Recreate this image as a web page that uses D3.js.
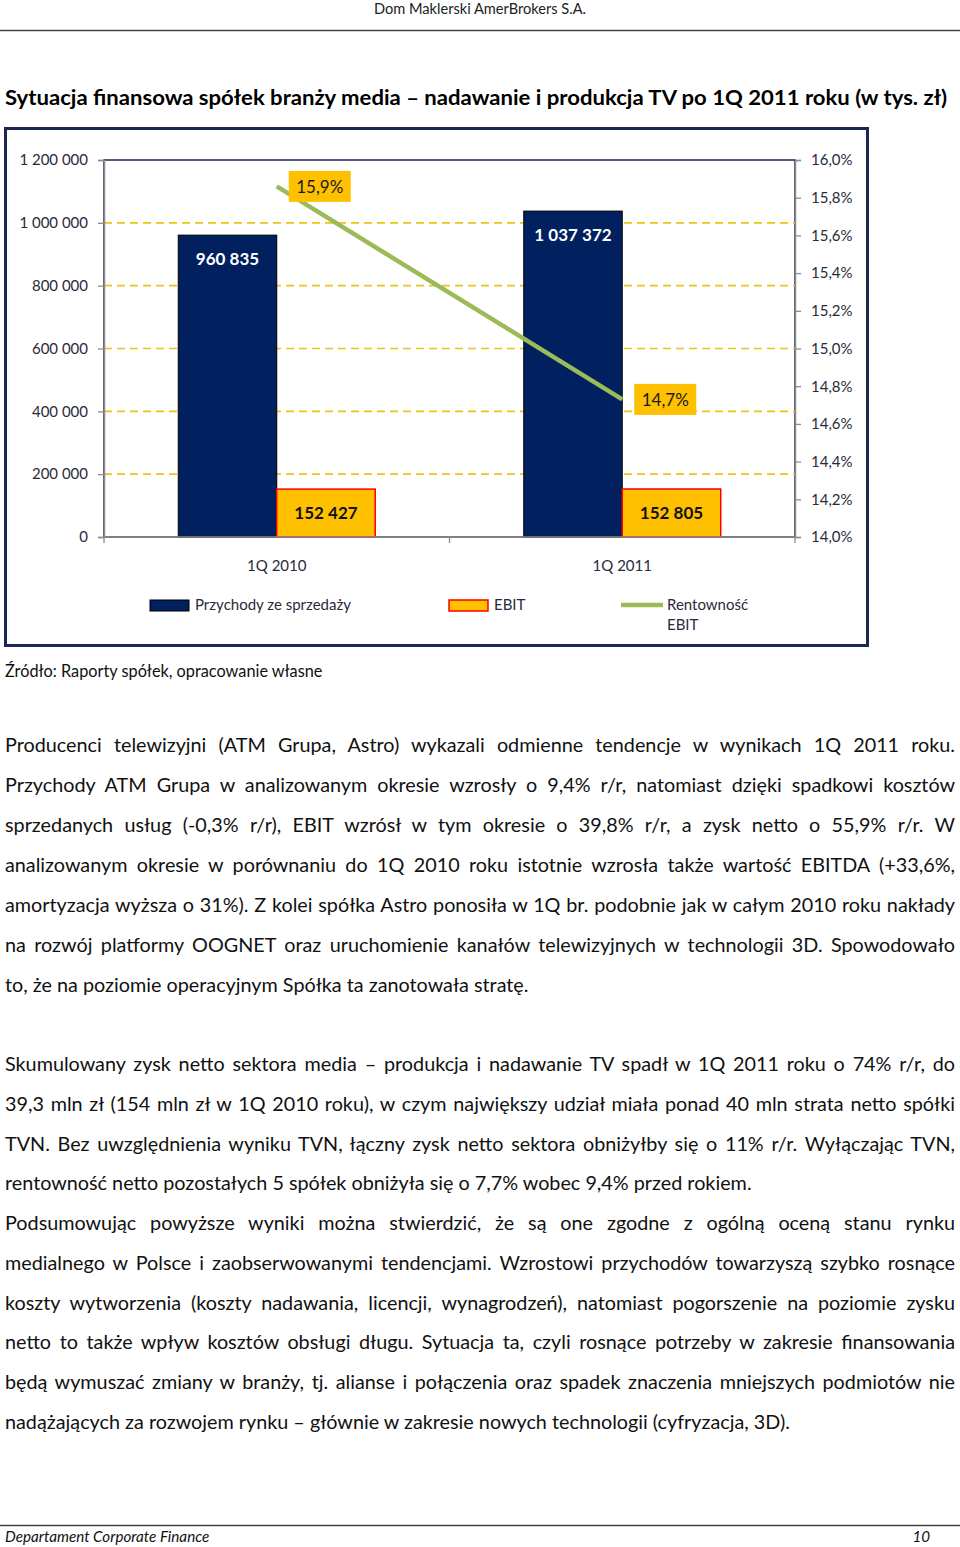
<!DOCTYPE html>
<html><head><meta charset="utf-8">
<script src="https://cdn.jsdelivr.net/npm/d3@7"></script>
<style>
body{margin:0;background:#fff}
svg{display:block}
text{font-family:Lato,'Open Sans',sans-serif}
</style>
</head><body>
<svg id="page" width="960" height="1547"></svg>
<script>
// ---------- data ----------
const categories = ["1Q 2010", "1Q 2011"];
const seriesNames = ["Przychody ze sprzedaży", "EBIT", "Rentowność EBIT"];
const revenue = [960835, 1037372];
const ebit = [152427, 152805];
const ebitMargin = [15.86, 14.73];
const leftTicks = [0, 200000, 400000, 600000, 800000, 1000000, 1200000];
const rightTicks = [14.0, 14.2, 14.4, 14.6, 14.8, 15.0, 15.2, 15.4, 15.6, 15.8, 16.0];

const headerText = "Dom Maklerski AmerBrokers S.A.";
const titleText = "Sytuacja finansowa spółek branży media – nadawanie i produkcja TV po 1Q 2011 roku (w tys. zł)";
const sourceText = "Źródło: Raporty spółek, opracowanie własne";
const para1 = [
  "Producenci telewizyjni (ATM Grupa, Astro) wykazali odmienne tendencje w wynikach 1Q 2011 roku.",
  "Przychody ATM Grupa w analizowanym okresie wzrosły o 9,4% r/r, natomiast dzięki spadkowi kosztów",
  "sprzedanych usług (-0,3% r/r), EBIT wzrósł w tym okresie o 39,8% r/r, a zysk netto o 55,9% r/r. W",
  "analizowanym okresie w porównaniu do 1Q 2010 roku istotnie wzrosła także wartość EBITDA (+33,6%,",
  "amortyzacja wyższa o 31%). Z kolei spółka Astro ponosiła w 1Q br. podobnie jak w całym 2010 roku nakłady",
  "na rozwój platformy OOGNET oraz uruchomienie kanałów telewizyjnych w technologii 3D. Spowodowało",
  "to, że na poziomie operacyjnym Spółka ta zanotowała stratę."
];
const para2 = [
  "Skumulowany zysk netto sektora media – produkcja i nadawanie TV spadł w 1Q 2011 roku o 74% r/r, do",
  "39,3 mln zł (154 mln zł w 1Q 2010 roku), w czym największy udział miała ponad 40 mln strata netto spółki",
  "TVN. Bez uwzględnienia wyniku TVN, łączny zysk netto sektora obniżyłby się o 11% r/r. Wyłączając TVN,",
  "rentowność netto pozostałych 5 spółek obniżyła się o 7,7% wobec 9,4% przed rokiem."
];
const para3 = [
  "Podsumowując powyższe wyniki można stwierdzić, że są one zgodne z ogólną oceną stanu rynku",
  "medialnego w Polsce i zaobserwowanymi tendencjami. Wzrostowi przychodów towarzyszą szybko rosnące",
  "koszty wytworzenia (koszty nadawania, licencji, wynagrodzeń), natomiast pogorszenie na poziomie zysku",
  "netto to także wpływ kosztów obsługi długu. Sytuacja ta, czyli rosnące potrzeby w zakresie finansowania",
  "będą wymuszać zmiany w branży, tj. alianse i połączenia oraz spadek znaczenia mniejszych podmiotów nie",
  "nadążających za rozwojem rynku – głównie w zakresie nowych technologii (cyfryzacja, 3D)."
];
const footerLeft = "Departament Corporate Finance";
const footerRight = "10";

// ---------- helpers ----------
const svg = d3.select("#page");
svg.append("rect").attr("width", 960).attr("height", 1547).attr("fill", "#fff");

function fit(sel, maxW) {
  const w = sel.node().getComputedTextLength();
  if (w > maxW) sel.attr("textLength", maxW).attr("lengthAdjust", "spacingAndGlyphs");
}
function justify(sel, W) {
  const txt = sel.text();
  const n = (txt.match(/ /g) || []).length;
  const w = sel.node().getComputedTextLength();
  if (!n) return;
  const ws = (W - w) / n;
  if (ws < -1.5) sel.attr("textLength", W).attr("lengthAdjust", "spacingAndGlyphs");
  else sel.style("word-spacing", ws + "px");
}
const fmtInt = d => d3.format(",")(d).replace(/,/g, " ");
const fmtPct = d => d.toFixed(1).replace(".", ",") + "%";

// ---------- header / title ----------
const header = svg.append("text").attr("x", 480).attr("y", 14).attr("text-anchor", "middle")
  .style("font-size", "14.5px").attr("fill", "#222").text(headerText);
header.attr("textLength", 212).attr("lengthAdjust", "spacingAndGlyphs");
svg.append("line").attr("x1", 0).attr("x2", 960).attr("y1", 30.5).attr("y2", 30.5)
  .attr("stroke", "#444").attr("stroke-width", 1.3);
const title = svg.append("text").attr("x", 5).attr("y", 105)
  .style("font-size", "21.5px").style("font-weight", "bold").attr("fill", "#000").text(titleText);
title.attr("textLength", 942).attr("lengthAdjust", "spacingAndGlyphs");

// ---------- chart ----------
svg.append("rect").attr("x", 5.5).attr("y", 128.5).attr("width", 862).attr("height", 517)
  .attr("fill", "#fff").attr("stroke", "#1a2654").attr("stroke-width", 3);

const L = 104, R = 795, T = 160, B = 537;
const x0 = d3.scaleBand().domain(categories).range([L, R]).paddingInner(0).paddingOuter(0);
const x1 = d3.scaleBand().domain(seriesNames.slice(0, 2)).range([0, x0.bandwidth()]).paddingInner(0).paddingOuter(0.754);
const y = d3.scaleLinear().domain([0, 1200000]).range([B, T]);
const y2 = d3.scaleLinear().domain([14, 16]).range([B, T]);

const chart = svg.append("g");

chart.append("rect").attr("x", L).attr("y", T).attr("width", R - L).attr("height", B - T)
  .attr("fill", "none").attr("stroke", "#1a2654").attr("stroke-width", 1.5);

chart.selectAll(".grid").data(leftTicks.filter(d => d > 0 && d < 1200000)).join("line")
  .attr("x1", L).attr("x2", R).attr("y1", d => y(d)).attr("y2", d => y(d))
  .attr("stroke", "#ecc41a").attr("stroke-width", 1.6).attr("stroke-dasharray", "8,5");

const rows = categories.map((c, i) => ({c, vals: [revenue[i], ebit[i]]}));
const groups = chart.selectAll(".grp").data(rows).join("g").attr("transform", d => `translate(${x0(d.c)},0)`);
const barFill = ["#002060", "#ffc000"], barStroke = ["#000", "#ff0000"], labFill = ["#fff", "#111"];
groups.selectAll("rect").data(d => d.vals.map((v, j) => ({v, j, k: seriesNames[j]}))).join("rect")
  .attr("x", d => x1(d.k)).attr("width", x1.bandwidth())
  .attr("y", d => y(d.v)).attr("height", d => B - y(d.v))
  .attr("fill", d => barFill[d.j]).attr("stroke", d => barStroke[d.j]).attr("stroke-width", d => d.j ? 1.5 : 1);
groups.selectAll(".blab").data(d => d.vals.map((v, j) => ({v, j, k: seriesNames[j]}))).join("text")
  .attr("class", "blab")
  .attr("x", d => x1(d.k) + x1.bandwidth() / 2).attr("y", d => y(d.v) + 30)
  .attr("text-anchor", "middle").style("font-size", "17px").style("font-weight", "bold")
  .attr("fill", d => labFill[d.j]).text(d => fmtInt(d.v));

const axL = chart.append("g").attr("transform", `translate(${L},0)`)
  .call(d3.axisLeft(y).tickValues(leftTicks).tickSize(6).tickPadding(10).tickFormat(fmtInt));
const axR = chart.append("g").attr("transform", `translate(${R},0)`)
  .call(d3.axisRight(y2).tickValues(rightTicks).tickSize(6).tickPadding(10).tickFormat(fmtPct));
const axB = chart.append("g").attr("transform", `translate(0,${B})`)
  .call(d3.axisBottom(x0).tickSize(0).tickPadding(0));
[axL, axR, axB].forEach(a => {
  a.select(".domain").attr("stroke", "#8c8c8c").attr("stroke-width", 1.5);
  a.selectAll(".tick line").attr("stroke", "#8c8c8c").attr("stroke-width", 1.3);
  a.selectAll("text").style("font-size", "15px").attr("fill", "#2a2a3a").style("font-family", "Lato,'Open Sans',sans-serif");
});
axB.select(".domain").attr("d", `M${L},0H${R}`);
axB.selectAll(".tick text").attr("y", 29).attr("dy", "0.35em");
const bounds = categories.map(c => x0(c)).concat([x0(categories[categories.length - 1]) + x0.bandwidth()]);
axB.selectAll(".btick").data(bounds).join("line").attr("class", "btick")
  .attr("x1", d => d).attr("x2", d => d).attr("y1", 0).attr("y2", 6)
  .attr("stroke", "#8c8c8c").attr("stroke-width", 1.3);

const pts = categories.map((c, i) => [x0(c) + x0.bandwidth() / 2, y2(ebitMargin[i])]);
chart.append("path").attr("d", d3.line()(pts)).attr("fill", "none")
  .attr("stroke", "#9bbb59").attr("stroke-width", 4.5);
const mlab = chart.selectAll(".mlab").data(pts).join("g").attr("class", "mlab")
  .attr("transform", d => `translate(${d[0] + 12},${d[1]})`);
mlab.append("rect").attr("x", 0).attr("y", -15.5).attr("width", 62).attr("height", 31).attr("fill", "#ffc000");
mlab.append("text").attr("x", 31).attr("y", 0).attr("dy", "0.36em").attr("text-anchor", "middle")
  .style("font-size", "17px").attr("fill", "#1a1a1a").text((d, i) => fmtPct(ebitMargin[i]));

const lg = chart.append("g");
lg.append("rect").attr("x", 150).attr("y", 600).attr("width", 39).attr("height", 11)
  .attr("fill", barFill[0]).attr("stroke", "#000").attr("stroke-width", 1);
lg.append("text").attr("x", 195).attr("y", 605).attr("dy", "0.35em").style("font-size", "15px")
  .attr("fill", "#2a2a3a").text(seriesNames[0]);
lg.append("rect").attr("x", 449).attr("y", 600).attr("width", 39).attr("height", 11)
  .attr("fill", barFill[1]).attr("stroke", "#ff0000").attr("stroke-width", 1.5);
lg.append("text").attr("x", 494).attr("y", 605).attr("dy", "0.35em").style("font-size", "15px")
  .attr("fill", "#2a2a3a").text(seriesNames[1]);
lg.append("line").attr("x1", 621).attr("x2", 663).attr("y1", 605).attr("y2", 605)
  .attr("stroke", "#9bbb59").attr("stroke-width", 4.5);
const lt = lg.append("text").attr("x", 667).attr("y", 605).attr("dy", "0.35em").style("font-size", "15px").attr("fill", "#2a2a3a");
const parts = seriesNames[2].split(" ");
lt.append("tspan").attr("x", 667).text(parts[0]);
lt.append("tspan").attr("x", 667).attr("dy", 20).text(parts[1]);

// ---------- source ----------
svg.append("text").attr("x", 5).attr("y", 677).style("font-size", "16.3px").attr("fill", "#111").text(sourceText);

// ---------- paragraphs ----------
function para(lines, y0, step) {
  lines.forEach((ln, i) => {
    const t = svg.append("text").attr("x", 5).attr("y", y0 + i * step)
      .style("font-size", "19.8px").attr("fill", "#111").text(ln);
    if (i < lines.length - 1) justify(t, 950); else fit(t, 950);
  });
}
para(para1, 752, 40);
para(para2, 1071, 39.8);
para(para3, 1230, 39.8);

// ---------- footer ----------
svg.append("line").attr("x1", 0).attr("x2", 960).attr("y1", 1525.5).attr("y2", 1525.5)
  .attr("stroke", "#444").attr("stroke-width", 1.5);
svg.append("text").attr("x", 5).attr("y", 1542).style("font-size", "15.2px").style("font-style", "italic")
  .attr("fill", "#111").text(footerLeft);
svg.append("text").attr("x", 930).attr("y", 1542).attr("text-anchor", "end").style("font-size", "15.2px")
  .style("font-style", "italic").attr("fill", "#111").text(footerRight);
</script>
</body></html>
